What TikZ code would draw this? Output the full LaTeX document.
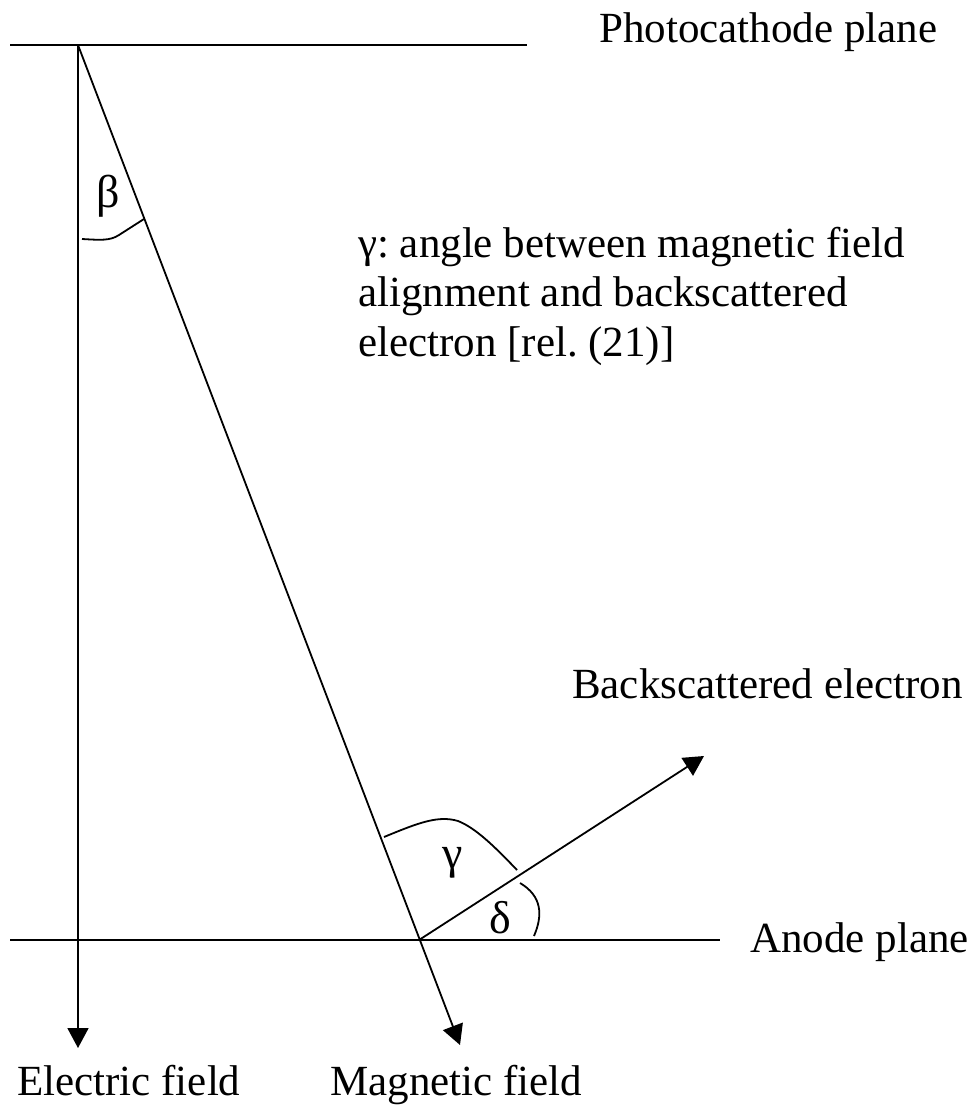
\documentclass[tikz,border=0pt]{standalone}
\usepackage{fontspec}
\setmainfont{Liberation Serif}
\usetikzlibrary{arrows.meta}
\frenchspacing
\begin{document}
\begin{tikzpicture}[x=1pt,y=-1pt,
  ln/.style={line width=1.8pt},
  arr/.style={ln,-{Triangle[length=20pt,width=21pt]}},
  lbl/.style={inner sep=0pt,anchor=base west,font=\fontsize{43}{50}\selectfont},
  greek/.style={inner sep=0pt,font=\fontsize{46}{50}\selectfont}]
\useasboundingbox (0,0) rectangle (970,1106);
% points
\coordinate (pcL) at (10,45);
\coordinate (pcR) at (527,45);
\coordinate (O) at (78,45);
\coordinate (anL) at (10,940);
\coordinate (anR) at (720,940);
\coordinate (eTip) at (78,1048);
\coordinate (mTip) at (460,1045);
\coordinate (X) at (419,940);
\coordinate (bTip) at (704,756);
% lines
\draw[ln] (pcL) -- (pcR);
\draw[ln] (anL) -- (anR);
\draw[arr] (O) -- (eTip);
\draw[arr] (O) -- (mTip);
\draw[arr] (X) -- (bTip);
% angle arcs
\draw[ln] (82,239) .. controls (100,240) and (110,241) .. (119,235) -- (144,219);
\draw[ln] (384,837) .. controls (418,823) and (438,815) .. (458,821) .. controls (476,828) and (496,848) .. (517,870);
\draw[ln] (520,883) .. controls (542,896) and (543,915) .. (534,936);
% labels
\node[greek] (beta) at (108,196) {β};
\node[greek] (gam) at (453,863) {γ};
\node[greek] (del) at (500,918) {δ};
\node[lbl] (pc) at (599,42) {Photocathode plane};
\node[lbl] (g1) at (358,257) {γ: angle between magnetic field};
\node[lbl] (g2) at (358,306) {alignment and backscattered};
\node[lbl] (g3) at (358,356) {electron [rel. (21)]};
\node[lbl] (bs) at (572,698) {Backscattered electron};
\node[lbl] (an) at (750,952) {Anode plane};
\node[lbl] (ef) at (17,1095) {Electric field};
\node[lbl] (mf) at (330,1095) {Magnetic field};
\end{tikzpicture}
\end{document}
